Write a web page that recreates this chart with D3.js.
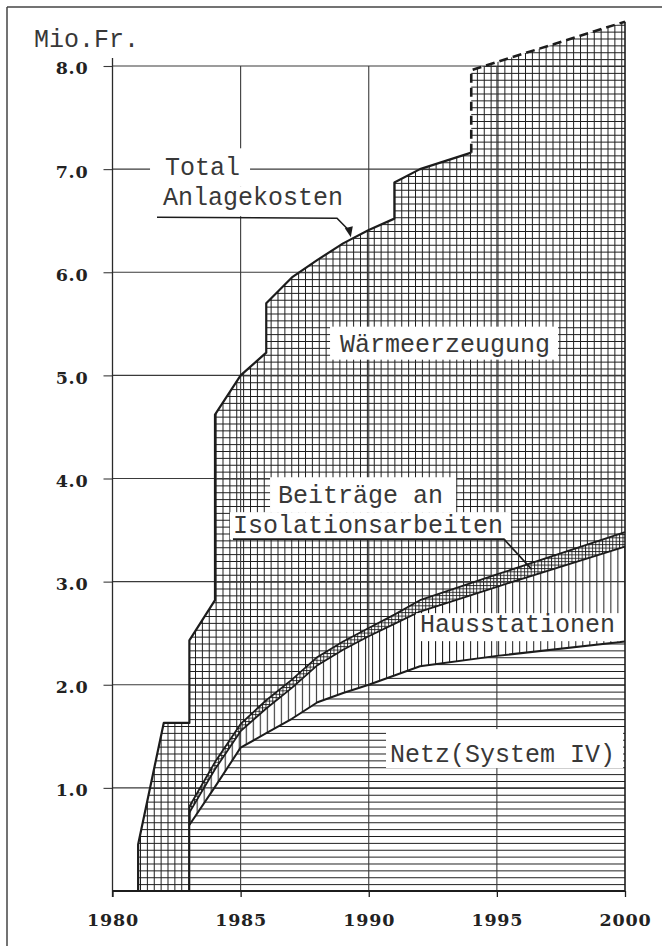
<!DOCTYPE html>
<html>
<head>
<meta charset="utf-8">
<script src="https://cdn.jsdelivr.net/npm/d3@7"></script>
<style>
    html, body { margin: 0; padding: 0; background: #fff; }
    svg { display: block; }
    .lbl { font-family: 'Liberation Mono', monospace; font-size: 25px; fill: #383838; }
    .tick text { font-family: 'DejaVu Serif', serif; font-weight: bold; font-size: 17.5px; fill: #222; letter-spacing: 0.8px; }
</style>
</head>
<body>
<svg id="chart" width="662" height="946"></svg>
<script>
// Anlagekosten Fernwärme (Mio. Fr.)

// Total Anlagekosten, built (solid line)
const totalYears  = [1981, 1981, 1982, 1983, 1983, 1984, 1984, 1985, 1986, 1986, 1987, 1988, 1989, 1990, 1991, 1991, 1992, 1993, 1994];
const totalValues = [0, 0.45, 1.63, 1.63, 2.43, 2.82, 4.62, 5.0, 5.22, 5.7, 5.95, 6.12, 6.28, 6.41, 6.52, 6.87, 7.0, 7.08, 7.16];

// Total Anlagekosten, planned (dashed line)
const planYears  = [1994, 1994, 2000];
const planValues = [7.16, 7.96, 8.43];

// stacked layers (cumulative tops)
const layerYears = [1983, 1984, 1985, 1986, 1987, 1988, 1989, 1990, 1991, 1992, 1995, 2000];
const netzTop    = [0.64, 1.01, 1.39, 1.53, 1.67, 1.83, 1.92, 2.0, 2.09, 2.18, 2.28, 2.42];
const hausTop    = [0.76, 1.18, 1.55, 1.77, 1.97, 2.19, 2.34, 2.47, 2.59, 2.71, 2.95, 3.34];
const isolTop    = [0.82, 1.25, 1.62, 1.85, 2.05, 2.27, 2.42, 2.55, 2.68, 2.82, 3.07, 3.48];

// axis ticks
const yTicks = [1, 2, 3, 4, 5, 6, 7, 8];
const xTicks = [1980, 1985, 1990, 1995, 2000];

// labels: anchored in data space (year, value = baseline); box edges relative to baseline
const labels = [
    { text: 'Total', year: 1982.05, value: 6.94, padL: 15, padR: 10, top: 27, bottom: 11 },
    { text: 'Anlagekosten', year: 1981.97, value: 6.65, padL: 13, padR: 4, top: 19, bottom: 11 },
    { text: 'Wärmeerzeugung', year: 1988.88, value: 5.23, padL: 10, padR: 8, top: 25, bottom: 8 },
    { text: 'Beiträge an', year: 1986.46, value: 3.76, padL: 8, padR: 13, top: 26, bottom: 9 },
    { text: 'Isolationsarbeiten', year: 1984.70, value: 3.47, padL: 3, padR: 8, top: 21, bottom: 6 },
    { text: 'Hausstationen', year: 1992.0, value: 2.51, padL: 4, padR: 5, top: 19, bottom: 9 },
    { text: 'Netz(System IV)', year: 1990.83, value: 1.25, padL: 4, padR: 8, top: 33, bottom: 6 }
];

const svg = d3.select('#chart');
const x = d3.scaleLinear().domain([1980, 2000]).range([112.5, 625]);
const y = d3.scaleLinear().domain([0, 8]).range([891, 66]);
const ink = '#1c1c1c';

// frame
svg.append('line').attr('x1', 7).attr('y1', 7).attr('x2', 662).attr('y2', 7)
    .attr('stroke', '#444').attr('stroke-width', 1.5);
svg.append('line').attr('x1', 7).attr('y1', 7).attr('x2', 7).attr('y2', 946)
    .attr('stroke', '#444').attr('stroke-width', 1.5);

// hatch patterns
const defs = svg.append('defs');
const step = (y(0) - y(1)) / 15;

function makePattern(id, w, h, lines, sw) {
    const p = defs.append('pattern').attr('id', id)
        .attr('patternUnits', 'userSpaceOnUse')
        .attr('x', x(1980)).attr('y', y(0))
        .attr('width', w).attr('height', h);
    lines.forEach(l => {
        p.append('line').attr('x1', l[0]).attr('y1', l[1]).attr('x2', l[2]).attr('y2', l[3])
            .attr('stroke', ink).attr('stroke-width', sw);
    });
}
makePattern('grid', step, step, [[0, 0.5, step, 0.5], [0.5, 0, 0.5, step]], 1);
makePattern('horiz', step, step, [[0, 0.5, step, 0.5]], 1);
makePattern('vert', step * 1.02, step, [[0.5, 0, 0.5, step]], 1);
makePattern('fine', 3.4, 3.4, [[0, 0.5, 3.4, 0.5], [0.5, 0, 0.5, 3.4]], 0.9);

// areas
const layer = layerYears.map((yr, i) => ({ year: yr, netz: netzTop[i], haus: hausTop[i], isol: isolTop[i] }));

const netzArea = d3.area().x(d => x(d.year)).y0(y(0)).y1(d => y(d.netz));
const hausArea = d3.area().x(d => x(d.year)).y0(d => y(d.netz)).y1(d => y(d.haus));
const isolArea = d3.area().x(d => x(d.year)).y0(d => y(d.haus)).y1(d => y(d.isol));

svg.append('path').datum(layer).attr('d', netzArea).attr('fill', 'url(#horiz)');
svg.append('path').datum(layer).attr('d', hausArea).attr('fill', 'url(#vert)');
svg.append('path').datum(layer).attr('d', isolArea).attr('fill', 'url(#fine)');

// Wärmeerzeugung: between total line and top of Isolationsarbeiten
const totalPts = totalYears.map((yr, i) => [yr, totalValues[i]]);
const planPts = planYears.map((yr, i) => [yr, planValues[i]]);
const waermePts = totalPts.concat(planPts.slice(1))
    .concat(layerYears.map((yr, i) => [yr, isolTop[i]]).reverse())
    .concat([[layerYears[0], 0], [totalYears[0], 0]]);
const line = d3.line().x(d => x(d[0])).y(d => y(d[1]));
svg.append('path').attr('d', line(waermePts) + 'Z').attr('fill', 'url(#grid)');

// grid lines
const grid = svg.append('g').attr('stroke', '#3a3a3a').attr('stroke-width', 1.1);
grid.selectAll('.gy').data(yTicks).enter().append('line')
    .attr('x1', x(1980)).attr('x2', x(2000))
    .attr('y1', d => y(d)).attr('y2', d => y(d));
grid.selectAll('.gx').data(xTicks.slice(1, 4)).enter().append('line')
    .attr('x1', d => x(d)).attr('x2', d => x(d))
    .attr('y1', y(0)).attr('y2', y(8));

// outlines
const outline = svg.append('g').attr('fill', 'none').attr('stroke', ink).attr('stroke-linejoin', 'round');
outline.append('path').datum(layer).attr('d', d3.line().x(d => x(d.year)).y(d => y(d.netz))).attr('stroke-width', 2);
outline.append('path').datum(layer).attr('d', d3.line().x(d => x(d.year)).y(d => y(d.haus))).attr('stroke-width', 1.8);
outline.append('path').datum(layer).attr('d', d3.line().x(d => x(d.year)).y(d => y(d.isol))).attr('stroke-width', 1.8);
outline.append('path').attr('d', line(totalPts)).attr('stroke-width', 2.2);
outline.append('path').attr('d', line(planPts)).attr('stroke-width', 2.6).attr('stroke-dasharray', '9,5');
// left edge of the layers and right edge at 2000
outline.append('path').attr('d', line([[layerYears[0], 0], [layerYears[0], isolTop[0]]])).attr('stroke-width', 1.8);
outline.append('path').attr('d', line([[2000, 0], [2000, planValues[planValues.length - 1]]])).attr('stroke-width', 1.6);

// labels with white boxes
const lblG = svg.append('g');
labels.forEach(l => {
    const g = lblG.append('g');
    const rect = g.append('rect').attr('fill', '#fff');
    const t = g.append('text').attr('class', 'lbl')
        .attr('x', x(l.year)).attr('y', y(l.value)).text(l.text);
    const bb = t.node().getBBox();
    const by = y(l.value);
    rect.attr('x', bb.x - l.padL).attr('y', by - l.top)
        .attr('width', bb.width + l.padL + l.padR).attr('height', l.top + l.bottom);
    l.bbox = bb;
});

// leader lines
const lead = svg.append('g').attr('fill', 'none').attr('stroke', ink).attr('stroke-width', 1.6);
const anl = labels[1].bbox;
const tip = [x(1989.3), y(6.34)];
const knee = [anl.x + anl.width - 6, y(6.65) + 13];
lead.append('path').attr('d', d3.line()([[anl.x - 6, y(6.65) + 12], knee, [tip[0] - 2, tip[1] - 7]]));
svg.append('path')
    .attr('d', d3.line()([[tip[0] - 6, tip[1] - 9], [tip[0] + 2, tip[1] - 11], [tip[0], tip[1]]]) + 'Z')
    .attr('fill', ink);

const iso = labels[4].bbox;
const bandYear = 1996.36;
const bandVal = (3.07 + (3.48 - 3.07) * (bandYear - 1995) / 5 + 2.95 + (3.34 - 2.95) * (bandYear - 1995) / 5) / 2;
lead.append('path').attr('d', d3.line()([[iso.x, y(3.47) + 6], [iso.x + iso.width + 1, y(3.47) + 6], [x(bandYear), y(bandVal)]]));

// axes
const yAxis = svg.append('g').attr('transform', `translate(${x(1980)},0)`)
    .call(d3.axisLeft(y).tickValues(yTicks).tickFormat(d3.format('.1f')).tickSize(9).tickPadding(15));
yAxis.select('.domain').remove();
yAxis.selectAll('.tick line').attr('stroke', '#3a3a3a').attr('stroke-width', 1.1);
yAxis.selectAll('.tick text').attr('dy', '0.45em');
svg.append('line').attr('x1', x(1980)).attr('x2', x(1980)).attr('y1', 58).attr('y2', y(0) + 6)
    .attr('stroke', '#2a2a2a').attr('stroke-width', 1.3);

const xAxis = svg.append('g').attr('transform', `translate(0,${y(0)})`)
    .call(d3.axisBottom(x).tickValues(xTicks).tickFormat(d3.format('d')).tickSize(6).tickPadding(17));
xAxis.select('.domain').remove();
xAxis.selectAll('.tick line').attr('stroke', ink).attr('stroke-width', 1.3);
svg.append('line').attr('x1', x(1980)).attr('x2', x(2000)).attr('y1', y(0)).attr('y2', y(0))
    .attr('stroke', ink).attr('stroke-width', 2.2);

// unit label
svg.append('text').attr('class', 'lbl').attr('x', 34).attr('y', 47).text('Mio.Fr.');
</script>
</body>
</html>
